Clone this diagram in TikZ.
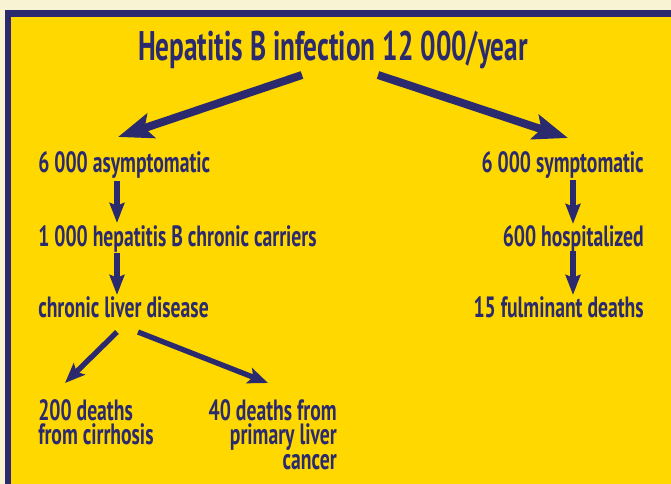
\documentclass[tikz,border=0pt]{standalone}
\usepackage{fontspec}
\setmainfont{PT Sans}
\newfontfamily\bodyfont{PT Sans}[FakeStretch=0.67]
\newfontfamily\titlefont{PT Sans}[FakeStretch=0.66]
\usetikzlibrary{arrows.meta,calc}
\definecolor{navy}{HTML}{2B2A6E}
\definecolor{yel}{HTML}{FFD800}
\definecolor{cream}{HTML}{F8F3D2}
\begin{document}
\begin{tikzpicture}[x=0.75pt,y=-0.75pt,
  txt/.style={inner sep=0pt, text=navy, font=\bodyfont\bfseries\fontsize{22}{18.5}\selectfont},
  ttl/.style={inner sep=0pt, text=navy, font=\titlefont\bfseries\fontsize{31}{30}\selectfont},
  bigarr/.style={draw=navy, line width=6pt, -{Stealth[length=26pt,width=19pt,inset=5pt]}},
  darr/.style={draw=navy, line width=4.5pt, -{Stealth[length=15pt,width=11pt,inset=2pt]}},
  sarr/.style={draw=navy, line width=4pt, -{Stealth[length=15pt,width=12pt,inset=3pt]}}]
% background and frame
\fill[cream] (0,0) rectangle (671,484);
\fill[navy] (5,10) rectangle (671,484);
\fill[yel] (11,17) rectangle (671,484);
\useasboundingbox (0,0) rectangle (671,484);
% texts
\node[ttl, anchor=base] (title) at (333,61) {Hepatitis B infection 12 000/year};
\node[txt, anchor=base west] (asym) at (38,173) {6 000 asymptomatic};
\node[txt, anchor=base west] (carr) at (38,247) {1 000 hepatitis B chronic carriers};
\node[txt, anchor=base west] (cld) at (38,318) {chronic liver disease};
\node[txt, anchor=base east] (sym) at (644,173) {6 000 symptomatic};
\node[txt, anchor=base east] (hosp) at (644,247) {600 hospitalized};
\node[txt, anchor=base east] (fulm) at (644,318) {15 fulminant deaths};
\node[txt, anchor=north west, align=left] (d200) at (38,399) {200 deaths\\from cirrhosis};
\node[txt, anchor=north east, align=right] (d40) at (337,399) {40 deaths from\\primary liver\\cancer};
% arrows
\draw[bigarr] ($(title.base)+(-31,14)$) -- ($(asym.base west)+(80,-36)$);
\draw[bigarr] ($(title.base)+(45,14)$) -- ($(sym.base east)+(-76,-35)$);
\draw[darr] ($(asym.base west)+(79,8)$) -- ($(carr.base west)+(79,-24)$);
\draw[darr] ($(carr.base west)+(79,6)$) -- ($(cld.base west)+(79,-23)$);
\draw[darr] ($(sym.base east)+(-71,7)$) -- ($(hosp.base east)+(-71,-23)$);
\draw[darr] ($(hosp.base east)+(-71,4)$) -- ($(fulm.base east)+(-71,-23)$);
\draw[sarr] ($(cld.base west)+(79,14)$) -- ($(d200.north west)+(27,-16)$);
\draw[sarr] ($(cld.base west)+(100,14)$) -- ($(d40.north east)+(-69,-16)$);
\end{tikzpicture}
\end{document}
